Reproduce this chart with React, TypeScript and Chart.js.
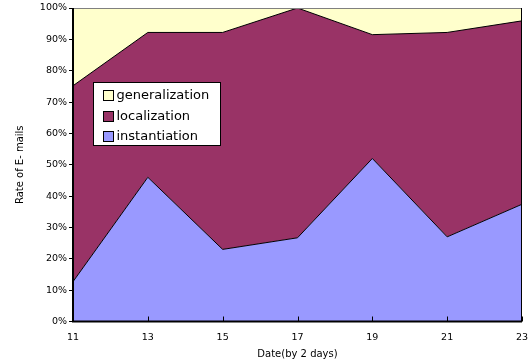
import React, { useEffect, useRef } from "react";
import { Chart, registerables } from "chart.js";

Chart.register(...registerables);

const categories = ["11", "13", "15", "17", "19", "21", "23"];
const instantiation = [12.7, 46, 23, 26.7, 52, 27, 37.4];
const localization = [62.5, 46.2, 69.2, 73.3, 39.5, 65.2, 58.5];
const generalization = [24.8, 7.8, 7.8, 0, 8.5, 7.8, 4.1];
const seriesNames = ["instantiation", "localization", "generalization"];
const seriesColors = ["#9999FF", "#993366", "#FFFFCC"];
const yTitle = "Rate of E- mails";
const xTitle = "Date(by 2 days)";

const FONT = "'DejaVu Sans', sans-serif";

const framePlugin = {
  id: "frame",
  afterDraw(chart: any) {
    const { ctx, chartArea } = chart;
    const { left, right, top, bottom } = chartArea;
    ctx.save();
    ctx.lineWidth = 1;
    ctx.strokeStyle = "#808080";
    ctx.beginPath();
    ctx.moveTo(left, top + 0.5);
    ctx.lineTo(right, top + 0.5);
    ctx.stroke();
    ctx.strokeStyle = "#000000";
    ctx.beginPath();
    ctx.moveTo(right - 0.5, top);
    ctx.lineTo(right - 0.5, bottom);
    ctx.stroke();
    ctx.lineWidth = 2;
    ctx.beginPath();
    ctx.moveTo(left, top);
    ctx.lineTo(left, bottom);
    ctx.lineTo(right, bottom);
    ctx.stroke();
    ctx.lineWidth = 1;
    const xs = chart.scales.x;
    for (let i = 0; i < categories.length; i++) {
      const px = Math.round(xs.getPixelForTick(i)) + 0.5;
      ctx.beginPath();
      ctx.moveTo(px, bottom);
      ctx.lineTo(px, bottom - 5);
      ctx.stroke();
    }
    const w = chartArea.width;
    const h = chartArea.height;
    const bx = Math.round(left + w * 0.0445) + 0.5;
    const by = Math.round(top + h * 0.237) + 0.5;
    const bw = 127;
    const bh = 63;
    ctx.fillStyle = "#FFFFFF";
    ctx.fillRect(bx, by, bw, bh);
    ctx.strokeStyle = "#000000";
    ctx.lineWidth = 1;
    ctx.strokeRect(bx, by, bw, bh);
    const order = [2, 1, 0];
    ctx.font = "13px " + FONT;
    ctx.textBaseline = "middle";
    ctx.textAlign = "left";
    order.forEach((si, row) => {
      const cy = by + 12.5 + row * 20.5;
      ctx.fillStyle = seriesColors[si];
      ctx.fillRect(Math.round(bx + 9), Math.round(cy - 5), 10, 10);
      ctx.strokeStyle = "#000000";
      ctx.strokeRect(Math.round(bx + 9) + 0.5, Math.round(cy - 5) + 0.5, 10, 10);
      ctx.fillStyle = "#000000";
      ctx.fillText(seriesNames[si], bx + 23, cy + 1);
    });
    ctx.restore();
  },
};

export default function App() {
  const ref = useRef<HTMLCanvasElement | null>(null);
  useEffect(() => {
    if (!ref.current) return;
    const values = [instantiation, localization, generalization];
    const chart = new Chart(ref.current, {
      type: "line",
      data: {
        labels: categories,
        datasets: values.map((v, i) => ({
          label: seriesNames[i],
          data: v,
          backgroundColor: seriesColors[i],
          borderColor: "#000000",
          borderWidth: 1,
          pointRadius: 0,
          tension: 0,
          fill: i === 0 ? "origin" : "-1",
        })),
      },
      options: {
        animation: false,
        responsive: true,
        maintainAspectRatio: false,
        layout: { padding: { left: 14, right: 6, top: 8, bottom: 0 } },
        plugins: {
          legend: { display: false },
          tooltip: { enabled: false },
        },
        scales: {
          x: {
            type: "category",
            offset: false,
            grid: { display: false, drawTicks: false, tickLength: 0 },
            border: { display: false },
            ticks: {
              color: "#000000",
              font: { family: FONT, size: 9.5 },
              padding: 10,
              maxRotation: 0,
              autoSkip: false,
            },
            title: {
              display: true,
              text: xTitle,
              color: "#000000",
              font: { family: FONT, size: 10 },
              padding: { top: 1, bottom: 3 },
            },
            afterFit(scale: any) {
              scale.height = 41.5;
              scale.paddingRight = 0;
              scale.paddingLeft = 0;
            },
          },
          y: {
            stacked: true,
            min: 0,
            max: 100,
            grid: {
              display: true,
              drawOnChartArea: false,
              drawTicks: true,
              tickLength: 4,
              color: "#000000",
            },
            border: { display: false },
            ticks: {
              stepSize: 10,
              color: "#000000",
              font: { family: FONT, size: 9.5 },
              padding: 2,
              callback: (v: any) => v + "%",
            },
            title: {
              display: true,
              text: yTitle,
              color: "#000000",
              font: { family: FONT, size: 10 },
              padding: { top: 0, bottom: 4 },
            },
            afterFit(scale: any) {
              scale.width = 59;
            },
          },
        },
      },
      plugins: [framePlugin],
    });
    return () => chart.destroy();
  }, []);
  return (
    <div style={{ position: "fixed", left: 0, top: 0, width: 528, height: 363, background: "#ffffff" }}>
      <canvas ref={ref} />
    </div>
  );
}
